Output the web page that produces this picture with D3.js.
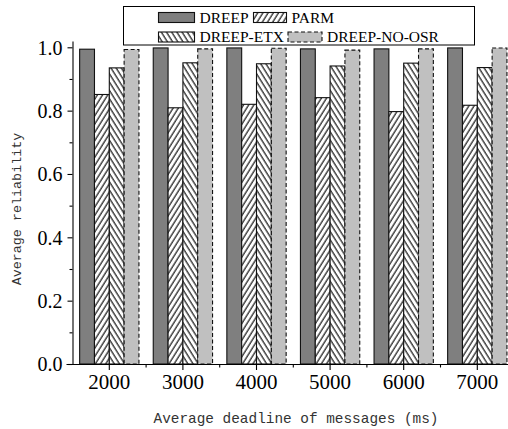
<!DOCTYPE html>
<html>
<head>
<meta charset="utf-8">
<script src="https://cdn.jsdelivr.net/npm/d3@7"></script>
<style>
html,body{margin:0;padding:0;background:#fff;}
svg{display:block;}
</style>
</head>
<body>
<svg id="chart" width="508" height="429"></svg>
<script>
const categories = ["2000","3000","4000","5000","6000","7000"];
const seriesNames = ["DREEP","PARM","DREEP-ETX","DREEP-NO-OSR"];
const dreep    = [0.994, 0.998, 0.998, 0.995, 0.995, 0.998];
const parm     = [0.851, 0.809, 0.820, 0.841, 0.797, 0.817];
const dreepEtx = [0.935, 0.951, 0.948, 0.941, 0.950, 0.936];
const dreepNoOsr = [0.993, 0.995, 0.997, 0.991, 0.995, 0.998];
const yTicksMajor = [0, 0.2, 0.4, 0.6, 0.8, 1.0];
const yTicksMinor = [0.1, 0.3, 0.5, 0.7, 0.9];
const xTitle = "Average deadline of messages (ms)";
const yTitle = "Average reliability";

const fontSerif = "'Liberation Serif','Times New Roman',serif";
const fontMono = "'Liberation Mono','DejaVu Sans Mono',monospace";

const seriesValues = [dreep, parm, dreepEtx, dreepNoOsr];
const rows = categories.map((c, i) => ({cat: c, vals: seriesNames.map((s, k) => ({s, k, v: seriesValues[k][i]}))}));

const svg = d3.select("#chart");
const left = 72.5, bottom = 364, groupW = 73.6;

const x0 = d3.scaleBand().domain(categories).range([left, left + groupW * categories.length]).padding(0);
const x1 = d3.scaleBand().domain(seriesNames).range([7.15, 66.45]).padding(0);
const y = d3.scaleLinear().domain([0, 1.02]).range([bottom, bottom - 1.02 * 316.7]);

// patterns
const defs = svg.append("defs");
function hatch(id, angle) {
  const p = defs.append("pattern").attr("id", id).attr("patternUnits", "userSpaceOnUse")
    .attr("width", 4.4).attr("height", 10).attr("patternTransform", `rotate(${angle})`);
  p.append("rect").attr("width", 4.4).attr("height", 10).attr("fill", "#fff");
  p.append("line").attr("x1", 1).attr("x2", 1).attr("y1", 0).attr("y2", 10)
    .attr("stroke", "#000").attr("stroke-width", 1.1);
}
hatch("hatchR", 32);
hatch("hatchL", -32);

const styles = {
  "DREEP": {fill: "#7f7f7f", dash: null},
  "PARM": {fill: "url(#hatchR)", dash: null},
  "DREEP-ETX": {fill: "url(#hatchL)", dash: null},
  "DREEP-NO-OSR": {fill: "#c0c0c0", dash: "4,2.5"}
};

// bars
const g = svg.append("g");
g.selectAll("g.grp").data(rows).join("g").attr("class", "grp")
  .attr("transform", d => `translate(${x0(d.cat)},0)`)
  .selectAll("rect").data(d => d.vals).join("rect")
  .attr("x", d => x1(d.s))
  .attr("y", d => y(d.v))
  .attr("width", x1.bandwidth())
  .attr("height", d => y(0) - y(d.v))
  .attr("fill", d => styles[d.s].fill)
  .attr("stroke", "#111")
  .attr("stroke-width", 1.1)
  .attr("stroke-dasharray", d => styles[d.s].dash);

// y axis
const yAxis = svg.append("g").attr("transform", `translate(${left},0)`)
  .call(d3.axisLeft(y).tickValues(yTicksMajor).tickFormat(d3.format(".1f")).tickSizeInner(5).tickSizeOuter(0).tickPadding(5));
yAxis.select(".domain").attr("stroke", "#000").attr("stroke-width", 1.1);
yAxis.selectAll(".tick line").attr("stroke", "#000").attr("stroke-width", 1.1);
yAxis.selectAll(".tick text").attr("font-family", fontSerif).attr("font-size", 20).attr("fill", "#000").attr("dy", "0.34em");
svg.append("g").attr("transform", `translate(${left},0)`)
  .call(d3.axisLeft(y).tickValues(yTicksMinor).tickFormat("").tickSizeInner(3).tickSizeOuter(0))
  .call(a => { a.select(".domain").remove(); a.selectAll("line").attr("stroke", "#000").attr("stroke-width", 1.1); });

// x axis
const xAxis = svg.append("g").attr("transform", `translate(0,${bottom})`)
  .call(d3.axisBottom(x0).tickSizeInner(6).tickSizeOuter(0).tickPadding(4));
xAxis.select(".domain").attr("d", `M${left - 6},0.5H${left + groupW * categories.length}`).attr("stroke", "#000").attr("stroke-width", 1.1);
xAxis.selectAll(".tick line").attr("stroke", "#000").attr("stroke-width", 1.1);
xAxis.selectAll(".tick text").attr("font-family", fontSerif).attr("font-size", 21).attr("fill", "#000");
// minor ticks at group boundaries
svg.append("g").selectAll("line").data(categories.slice(1)).join("line")
  .attr("x1", d => x0(d)).attr("x2", d => x0(d))
  .attr("y1", bottom).attr("y2", bottom + 3.5)
  .attr("stroke", "#000").attr("stroke-width", 1.1);

// axis titles
svg.append("text").attr("x", 296).attr("y", 423).attr("text-anchor", "middle")
  .attr("font-family", fontMono).attr("font-size", 14.4).attr("fill", "#333").text(xTitle);
svg.append("text").attr("transform", "translate(21,209) rotate(-90)").attr("text-anchor", "middle")
  .attr("font-family", fontMono).attr("font-size", 13.4).attr("fill", "#333").text(yTitle);

// legend
const leg = svg.append("g");
leg.append("rect").attr("x", 123.5).attr("y", 6.5).attr("width", 351).attr("height", 38.5)
  .attr("fill", "#fff").attr("stroke", "#000").attr("stroke-width", 1);
const legItems = [
  {s: "DREEP", x: 158.5, y: 12.5, w: 36},
  {s: "PARM", x: 253.5, y: 12.5, w: 33},
  {s: "DREEP-ETX", x: 158.5, y: 32, w: 36},
  {s: "DREEP-NO-OSR", x: 288, y: 32, w: 34}
];
const li = leg.selectAll("g.li").data(legItems).join("g").attr("class", "li");
li.append("rect").attr("x", d => d.x).attr("y", d => d.y).attr("width", d => d.w).attr("height", 10)
  .attr("fill", d => styles[d.s].fill).attr("stroke", "#111").attr("stroke-width", 1.1)
  .attr("stroke-dasharray", d => styles[d.s].dash);
li.append("text").attr("x", d => d.x + d.w + 5).attr("y", d => d.y + 10)
  .attr("font-family", fontSerif).attr("font-size", 15.5).attr("fill", "#000").text(d => d.s);
</script>
</body>
</html>
